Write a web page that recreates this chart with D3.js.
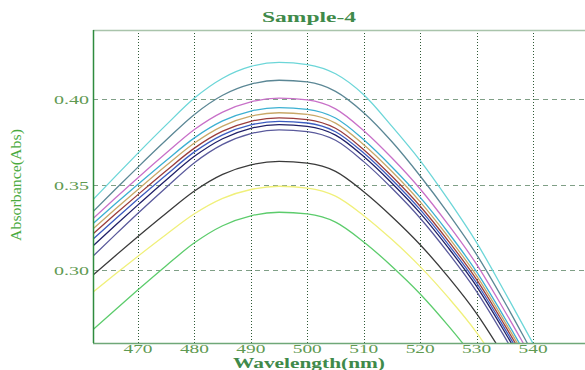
<!DOCTYPE html>
<html>
<head>
<meta charset="utf-8">
<script src="https://cdn.jsdelivr.net/npm/d3@7"></script>
<style>
  body { margin: 0; background: #fff; }
  svg { display: block; }
</style>
</head>
<body>
<svg width="585" height="370"></svg>
<script>
var wavelengths = [462, 466, 470, 475, 480, 485, 490, 495, 500, 505,
                   510, 515, 520, 525, 530, 535, 540, 545, 550];

// absorbance readings, one list per scan
var scanCyan    = [0.341, 0.3548, 0.3684, 0.3849, 0.4006, 0.4122, 0.4191, 0.4215, 0.4202, 0.4148,
                   0.4025, 0.384, 0.364, 0.341, 0.316, 0.287, 0.257, 0.227, 0.197];
var scanSlate   = [0.334, 0.3472, 0.3602, 0.376, 0.391, 0.4022, 0.4087, 0.411, 0.410, 0.4045,
                   0.392, 0.375, 0.355, 0.333, 0.309, 0.281, 0.251, 0.221, 0.191];
var scanMagenta = [0.330, 0.3421, 0.354, 0.3684, 0.3822, 0.3924, 0.3984, 0.4005, 0.3995, 0.3943,
                   0.3815, 0.3655, 0.3474, 0.3264, 0.3033, 0.2759, 0.247, 0.217, 0.187];
var scanSky     = [0.327, 0.3387, 0.3501, 0.3641, 0.3773, 0.3872, 0.393, 0.395, 0.394, 0.3889,
                   0.3762, 0.3603, 0.3425, 0.3218, 0.2989, 0.2718, 0.243, 0.213, 0.183];
var scanTan     = [0.324, 0.3357, 0.3471, 0.3611, 0.3743, 0.3842, 0.390, 0.392, 0.391, 0.3859,
                   0.3733, 0.3576, 0.3399, 0.3193, 0.2966, 0.2697, 0.241, 0.211, 0.181];
var scanBrown   = [0.321, 0.3327, 0.3441, 0.3581, 0.3713, 0.3812, 0.387, 0.389, 0.388, 0.3829,
                   0.3704, 0.3548, 0.3373, 0.3169, 0.2944, 0.2676, 0.239, 0.209, 0.179];
var scanBlue    = [0.318, 0.3299, 0.3415, 0.3556, 0.3691, 0.3791, 0.3849, 0.387, 0.386, 0.3809,
                   0.3684, 0.3528, 0.3353, 0.3149, 0.2924, 0.2656, 0.237, 0.207, 0.177];
var scanNavy    = [0.314, 0.3262, 0.3381, 0.3527, 0.3665, 0.3768, 0.3829, 0.385, 0.384, 0.3789,
                   0.3664, 0.3508, 0.3333, 0.3129, 0.2904, 0.2636, 0.235, 0.205, 0.175];
var scanPurple  = [0.308, 0.3207, 0.3332, 0.3483, 0.3628, 0.3735, 0.3798, 0.382, 0.381, 0.3759,
                   0.3634, 0.3478, 0.3303, 0.3099, 0.2874, 0.2606, 0.232, 0.202, 0.172];
var scanBlack   = [0.297, 0.3084, 0.3196, 0.3332, 0.3462, 0.3559, 0.3615, 0.3635, 0.3625, 0.3577,
                   0.3458, 0.3312, 0.3148, 0.2958, 0.2745, 0.2488, 0.221, 0.191, 0.161];
var scanYellow  = [0.287, 0.2977, 0.3081, 0.3208, 0.3329, 0.3419, 0.3471, 0.349, 0.3479, 0.3432,
                   0.3318, 0.3178, 0.302, 0.2838, 0.2634, 0.2383, 0.211, 0.181, 0.151];
var scanGreen   = [0.265, 0.2768, 0.2884, 0.3025, 0.3159, 0.3259, 0.3317, 0.3338, 0.3328, 0.328,
                   0.3164, 0.3021, 0.286, 0.2673, 0.2465, 0.2211, 0.1935, 0.1635, 0.1335];

var xTicks = [470, 480, 490, 500, 510, 520, 530, 540];
var yTicks = [0.30, 0.35, 0.40];

var scans = [scanCyan, scanSlate, scanMagenta, scanSky, scanTan, scanBrown,
             scanBlue, scanNavy, scanPurple, scanBlack, scanYellow, scanGreen];
var scanColors = ["#6cd6d8", "#5b8795", "#c870c8", "#3cb0d2", "#c8a868", "#9a3c3c",
                  "#3c5cc0", "#202068", "#5a5a9c", "#3a3a3a", "#f0f07a", "#5ccc6c"];

var svg = d3.select("svg");
var margin = {top: 30, right: 0, bottom: 27, left: 93},
    width = 585 - margin.left - margin.right,
    height = 370 - margin.top - margin.bottom;

var x = d3.scaleLinear().domain([462.03, 549.2]).range([0, width]);
var y = d3.scaleLinear().domain([0.2573, 0.4404]).range([height, 0]);

var g = svg.append("g").attr("transform", "translate(" + margin.left + "," + margin.top + ")");

g.append("clipPath").attr("id", "plot")
  .append("rect").attr("width", width).attr("height", height);

// grid
g.selectAll(".hgrid").data(yTicks).enter().append("line")
  .attr("x1", 0).attr("x2", width)
  .attr("y1", function(d) { return Math.round(y(d)) + 0.5; })
  .attr("y2", function(d) { return Math.round(y(d)) + 0.5; })
  .attr("stroke", "#7f9f86").attr("stroke-dasharray", "5,4");

g.selectAll(".vgrid").data(xTicks).enter().append("line")
  .attr("y1", 0).attr("y2", height)
  .attr("x1", function(d) { return Math.round(x(d)) + 0.5; })
  .attr("x2", function(d) { return Math.round(x(d)) + 0.5; })
  .attr("stroke", "#2f5a36").attr("stroke-dasharray", "1,2");

// curves
var line = d3.line()
  .x(function(d, i) { return x(wavelengths[i]); })
  .y(function(d) { return y(d); })
  .curve(d3.curveMonotoneX);

g.append("g").attr("clip-path", "url(#plot)")
  .selectAll("path").data(scans).enter().append("path")
  .attr("d", line)
  .attr("fill", "none")
  .attr("stroke", function(d, i) { return scanColors[i]; })
  .attr("stroke-width", 1.3);

// frame
g.append("line").attr("x1", 0).attr("x2", width).attr("y1", 0.5).attr("y2", 0.5)
  .attr("stroke", "#a9c4ab").attr("stroke-width", 1.5);
g.append("line").attr("x1", 0).attr("x2", width).attr("y1", height + 0.5).attr("y2", height + 0.5)
  .attr("stroke", "#6fa878").attr("stroke-width", 1.5);
g.append("line").attr("x1", 0.5).attr("x2", 0.5).attr("y1", 0).attr("y2", height)
  .attr("stroke", "#2e8b3e").attr("stroke-width", 1.5);

// tick labels
var tickFont = "'Liberation Serif', 'DejaVu Serif', serif";
g.selectAll(".xl").data(xTicks).enter().append("text")
  .attr("x", function(d) { return x(d); })
  .attr("y", height + 10)
  .attr("text-anchor", "middle")
  .attr("font-family", tickFont).attr("font-size", 12)
  .attr("textLength", 29).attr("lengthAdjust", "spacingAndGlyphs")
  .attr("fill", "#5f9a52")
  .text(function(d) { return d; });

g.selectAll(".yl").data(yTicks).enter().append("text")
  .attr("x", -4)
  .attr("y", function(d) { return y(d) + 5; })
  .attr("text-anchor", "end")
  .attr("font-family", tickFont).attr("font-size", 13)
  .attr("textLength", 35).attr("lengthAdjust", "spacingAndGlyphs")
  .attr("fill", "#5f9a52")
  .text(function(d) { return d.toFixed(2); });

// titles
svg.append("text").attr("x", 309).attr("y", 22)
  .attr("text-anchor", "middle")
  .attr("font-family", tickFont).attr("font-weight", "bold").attr("font-size", 15)
  .attr("textLength", 94).attr("lengthAdjust", "spacingAndGlyphs")
  .attr("fill", "#3f8a4a")
  .text("Sample-4");

svg.append("text").attr("x", 309).attr("y", 368)
  .attr("text-anchor", "middle")
  .attr("font-family", tickFont).attr("font-weight", "bold").attr("font-size", 14)
  .attr("textLength", 152).attr("lengthAdjust", "spacingAndGlyphs")
  .attr("fill", "#3f8a4a")
  .text("Wavelength(nm)");

svg.append("text")
  .attr("transform", "translate(21,185) rotate(-90)")
  .attr("text-anchor", "middle")
  .attr("font-family", tickFont).attr("font-size", 15)
  .attr("textLength", 112).attr("lengthAdjust", "spacingAndGlyphs")
  .attr("fill", "#4aaa3e")
  .text("Absorbance(Abs)");
</script>
</body>
</html>
